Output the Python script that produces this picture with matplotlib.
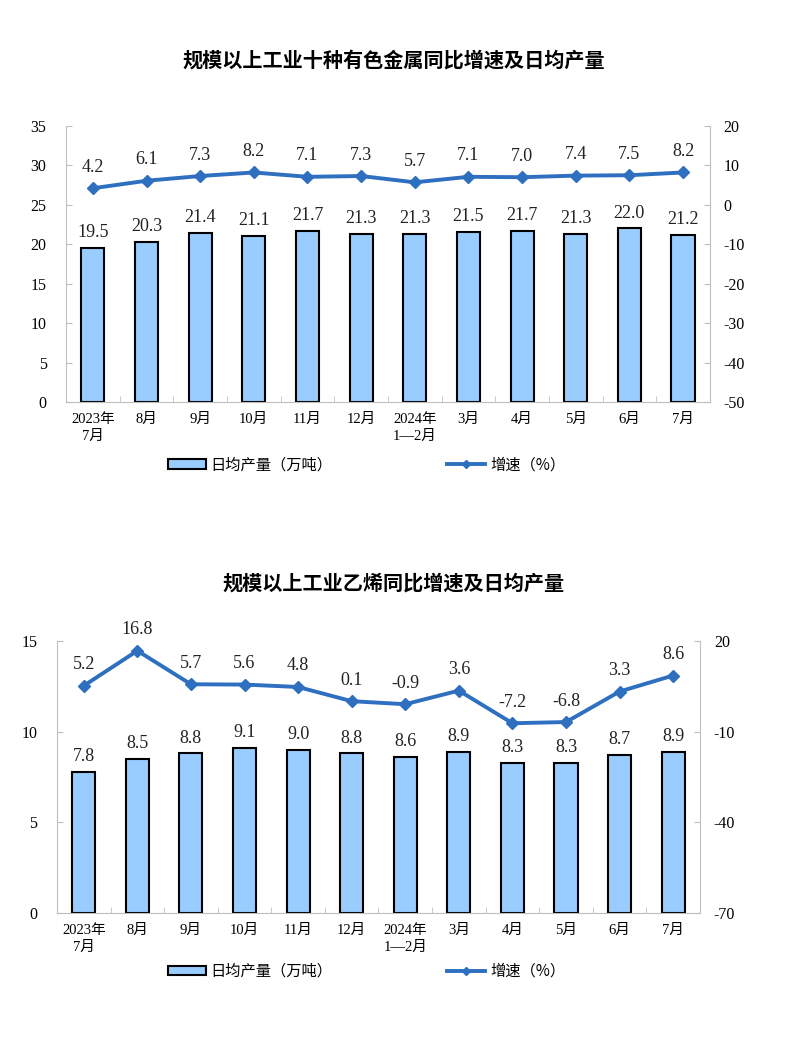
import numpy as np
import matplotlib
matplotlib.use("Agg")
import matplotlib.pyplot as plt
from matplotlib.patches import Patch
from matplotlib.lines import Line2D

plt.rcParams['font.family'] = ['Liberation Serif', 'Noto Sans CJK SC']
plt.rcParams['axes.unicode_minus'] = False

months = ['2023年\n7月', '8月', '9月', '10月', '11月', '12月', '2024年\n1—2月',
          '3月', '4月', '5月', '6月', '7月']

metal_output = [19.5, 20.3, 21.4, 21.1, 21.7, 21.3, 21.3, 21.5, 21.7, 21.3, 22.0, 21.2]
metal_growth = [4.2, 6.1, 7.3, 8.2, 7.1, 7.3, 5.7, 7.1, 7.0, 7.4, 7.5, 8.2]

ethylene_output = [7.8, 8.5, 8.8, 9.1, 9.0, 8.8, 8.6, 8.9, 8.3, 8.3, 8.7, 8.9]
ethylene_growth = [5.2, 16.8, 5.7, 5.6, 4.8, 0.1, -0.9, 3.6, -7.2, -6.8, 3.3, 8.6]

bar_color = '#99ccff'
line_color = '#2e6fbf'
grey = '#bfbfbf'
cjk = ['Noto Sans CJK SC', 'DejaVu Sans']


def draw(rect, title, title_y, output, growth, left_ticks, right_ticks, legend_y):
    ax = fig.add_axes(rect)
    x = np.arange(len(months))
    ax.bar(x, output, width=0.43, color=bar_color, edgecolor='black', linewidth=1.5, zorder=2)
    for xi, v in zip(x, output):
        ax.annotate(f'{v:.1f}', (xi, v), xytext=(0, 5), textcoords='offset points',
                    ha='center', va='bottom', fontsize=13, color='#222222')
    ax.set_xlim(-0.5, len(months) - 0.5)
    ax.set_ylim(left_ticks[0], left_ticks[-1])
    ax.set_yticks(left_ticks)
    ax.set_xticks(x)
    ax.set_xticklabels(months, fontsize=10.5, linespacing=1.4)
    ax.set_xticks(np.arange(-0.5, len(months)), minor=True)
    ax.tick_params(axis='x', which='major', length=0, pad=8)
    ax.tick_params(axis='x', which='minor', length=4, direction='in', color=grey)
    ax.tick_params(axis='y', length=4, direction='in', color=grey, labelsize=11.5, pad=14)
    for s in ['top', 'right']:
        ax.spines[s].set_visible(False)
    for s in ['left', 'bottom']:
        ax.spines[s].set_color(grey)

    ax2 = ax.twinx()
    ax2.plot(x, growth, color=line_color, linewidth=2.8, marker='D', markersize=6.5, zorder=3)
    for xi, v in zip(x, growth):
        ax2.annotate(f'{v:.1f}', (xi, v), xytext=(0, 9), textcoords='offset points',
                     ha='center', va='bottom', fontsize=13, color='#222222')
    ax2.set_ylim(right_ticks[0], right_ticks[-1])
    ax2.set_yticks(right_ticks)
    ax2.tick_params(axis='y', length=4, direction='in', color=grey, labelsize=11.5, pad=10)
    for s in ['top', 'left', 'bottom']:
        ax2.spines[s].set_visible(False)
    ax2.spines['right'].set_color(grey)

    fig.text(0.5, title_y, title, ha='center', va='center', fontsize=14.5,
             fontweight='bold', family=cjk)

    handles = [Patch(facecolor=bar_color, edgecolor='black', linewidth=1.5),
               Line2D([], [], color=line_color, linewidth=2.8, marker='D', markersize=4)]
    fig.legend(handles, ['日均产量（万吨）', '增速（%）'], loc='center',
               bbox_to_anchor=(0.465, legend_y), ncol=2, frameon=False,
               prop={'family': cjk, 'size': 11}, handlelength=2.5, handleheight=0.6,
               handletextpad=0.3, columnspacing=7.5)


fig = plt.figure(figsize=(7.88, 10.4), dpi=100)

draw([0.0838, 0.6135, 0.817, 0.2654], '规模以上工业十种有色金属同比增速及日均产量', 0.942,
     metal_output, metal_growth, list(range(0, 36, 5)), list(range(-50, 21, 10)), 0.553)

draw([0.0723, 0.1221, 0.816, 0.2615], '规模以上工业乙烯同比增速及日均产量', 0.439,
     ethylene_output, ethylene_growth, [0, 5, 10, 15], [-70, -40, -10, 20], 0.066)

fig.savefig('out.png', dpi=100)
